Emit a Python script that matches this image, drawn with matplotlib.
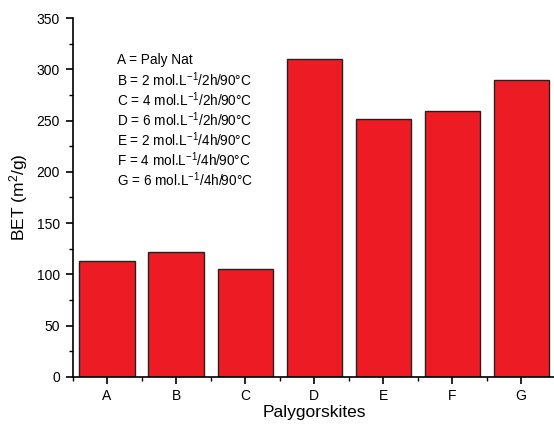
import matplotlib
matplotlib.use("Agg")
import matplotlib.pyplot as plt
from matplotlib.ticker import MultipleLocator, FixedLocator

plt.rcParams['font.family'] = ['Liberation Sans', 'DejaVu Sans']
plt.rcParams['mathtext.fontset'] = 'custom'
plt.rcParams['mathtext.rm'] = 'Liberation Sans'
plt.rcParams['mathtext.it'] = 'Liberation Sans'

categories = ['A', 'B', 'C', 'D', 'E', 'F', 'G']
bet_values = [113, 122, 105, 310, 252, 259, 290]
legend_lines = [
    'A = Paly Nat',
    'B = 2 mol.L$^{\\mathregular{-1}}$/2h/90°C',
    'C = 4 mol.L$^{\\mathregular{-1}}$/2h/90°C',
    'D = 6 mol.L$^{\\mathregular{-1}}$/2h/90°C',
    'E = 2 mol.L$^{\\mathregular{-1}}$/4h/90°C',
    'F = 4 mol.L$^{\\mathregular{-1}}$/4h/90°C',
    'G = 6 mol.L$^{\\mathregular{-1}}$/4h/90°C',
]

fig = plt.figure(figsize=(5.54, 4.24), dpi=100)
ax = fig.add_axes([0.131, 0.111, 0.872, 0.8465])

x = list(range(len(categories)))
ax.bar(x, bet_values, width=0.8, color='#ED1C24', edgecolor='#222222', linewidth=1.0)

ax.set_xlim(-0.5, 6.5)
ax.set_ylim(0, 350)
ax.set_xticks(x)
ax.set_xticklabels(categories)
ax.xaxis.set_minor_locator(FixedLocator([i - 0.5 for i in range(len(categories) + 1)]))
ax.yaxis.set_major_locator(MultipleLocator(50))
ax.yaxis.set_minor_locator(MultipleLocator(25))

for s in ['top', 'right']:
    ax.spines[s].set_visible(False)
for s in ['left', 'bottom']:
    ax.spines[s].set_linewidth(1.2)

ax.tick_params(axis='both', which='major', direction='out', length=5, width=1.2, labelsize=10)
ax.tick_params(axis='both', which='minor', direction='out', length=3, width=1.0)
ax.tick_params(axis='x', which='major', pad=4)
ax.tick_params(axis='y', which='major', pad=4)

ax.set_ylabel('BET (m$^{\\mathregular{2}}$/g)', fontsize=12.5, labelpad=5)
ax.set_xlabel('Palygorskites', fontsize=12.5, labelpad=1)

for i, line in enumerate(legend_lines):
    fig.text(117 / 554, 1 - (60 + 20 * i) / 424, line, fontsize=9.8, va='center', ha='left')

fig.savefig('out.png', dpi=100)
